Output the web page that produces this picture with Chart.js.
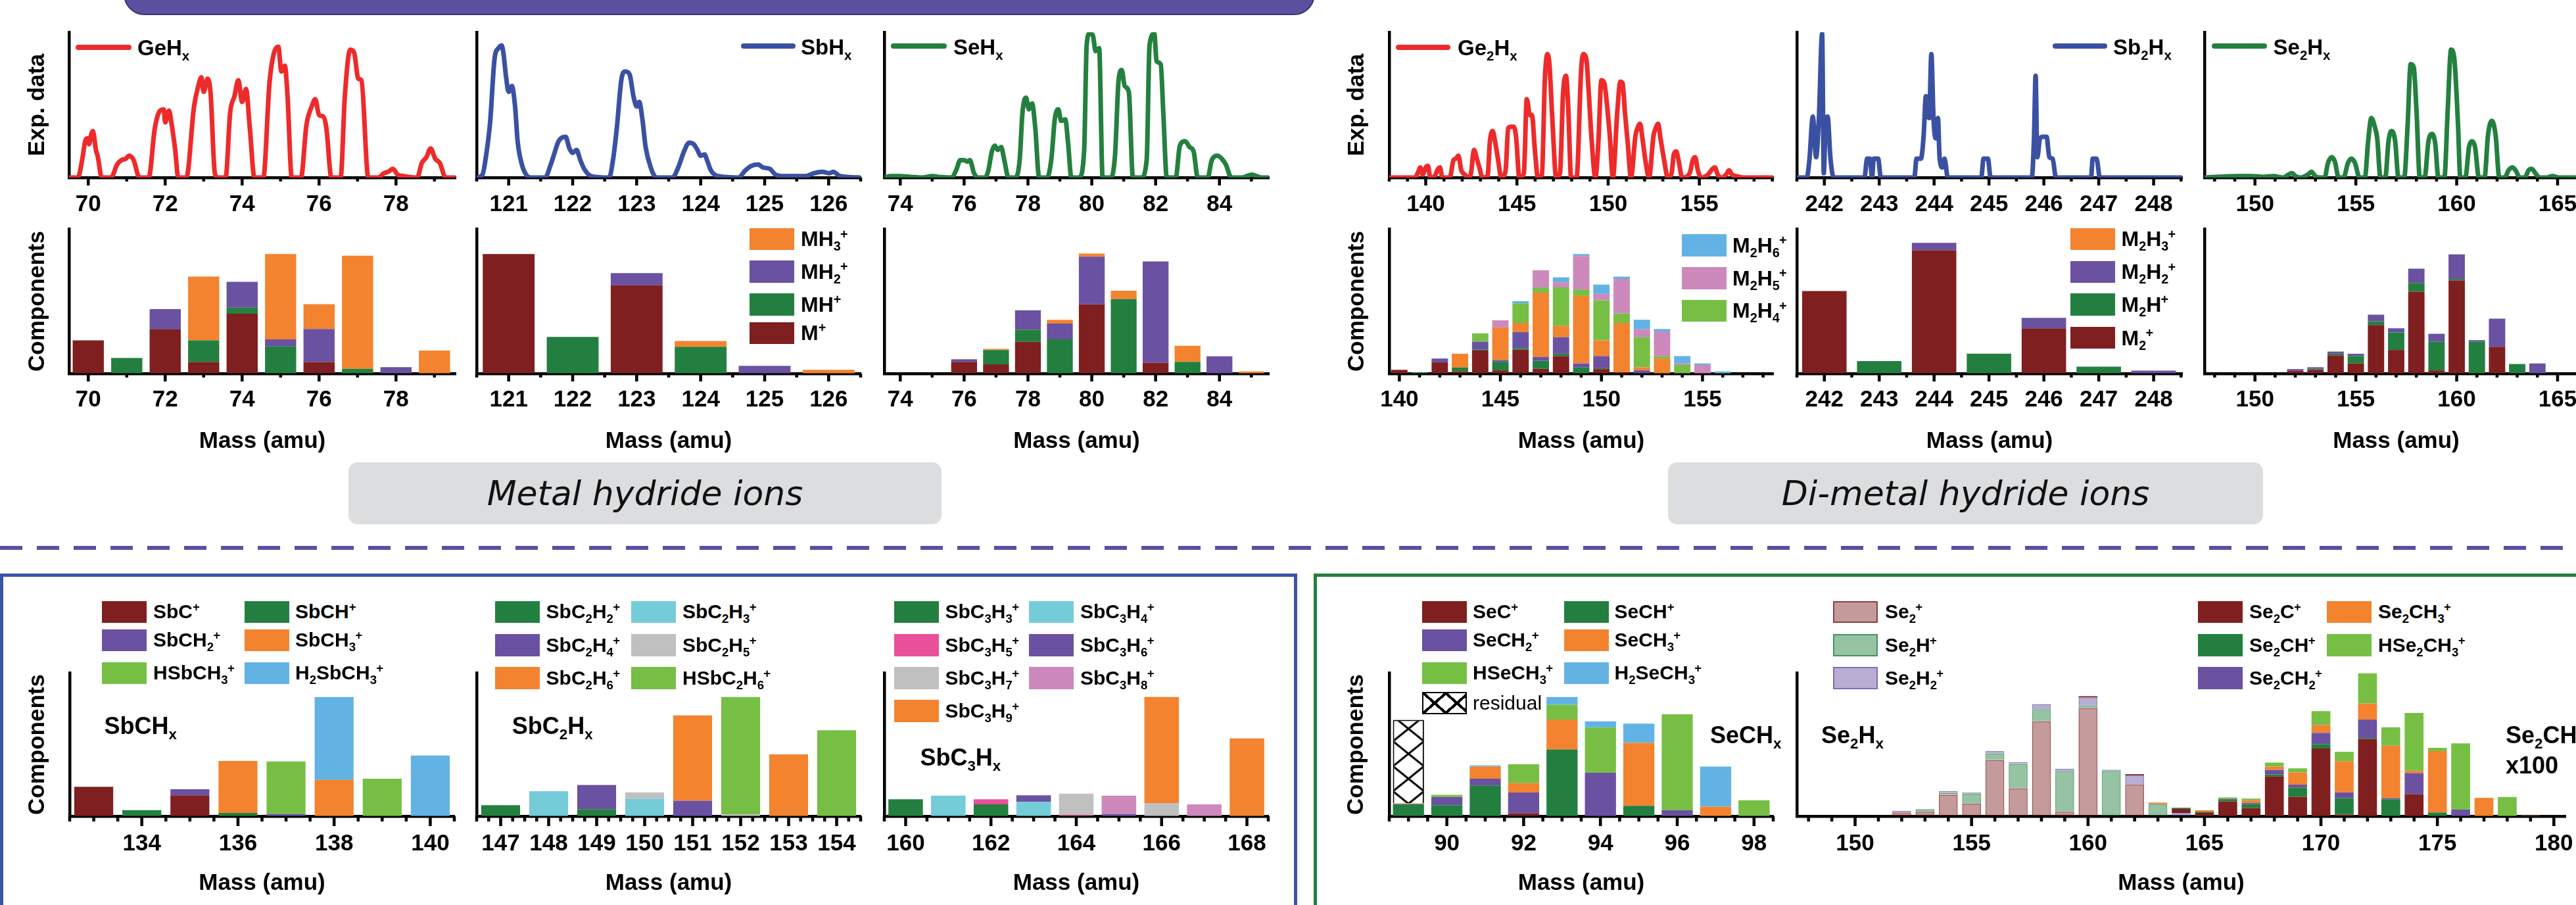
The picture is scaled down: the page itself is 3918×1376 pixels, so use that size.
<!DOCTYPE html>
<html><head><meta charset="utf-8"><title>Hydride ion components</title>
<script src="https://cdn.jsdelivr.net/npm/chart.js@4.4.1/dist/chart.umd.min.js"></script>
<style>
  html, body { margin: 0; padding: 0; background: #fff; }
  body { position: relative; width: 3918px; height: 1376px; overflow: hidden; font-family: 'Liberation Sans', Arial, sans-serif; }
  canvas { position: absolute; }
  .box { position: absolute; box-sizing: border-box; }
  .t { position: absolute; height: 1em; line-height: 1em; margin-top: -0.5em; font-weight: bold; white-space: nowrap; color: #000; }
  .t sub, .t sup { font-size: 0.62em; line-height: 0; }
  .t sub + sup { margin-left: -0.04em; }
  .tag { position: absolute; background: #dcdddf; border-radius: 14px; display: flex; align-items: center; justify-content: center;
         font: italic 200 52px 'DejaVu Sans', sans-serif; color: #111; }
</style></head><body>
<div class="box" style="left:188px;top:-40px;width:1812px;height:63px;background:#5b4f9f;border:2px solid #3b3477;border-radius:0 0 32px 32px"></div>
<div class="tag" style="left:530px;top:703px;width:902px;height:94px">Metal hydride ions</div>
<div class="tag" style="left:2537px;top:703px;width:905px;height:94px">Di-metal hydride ions</div>
<div class="box" style="left:0;top:830px;width:3918px;height:6px;background:repeating-linear-gradient(90deg,#5b4f9f 0 34px,transparent 34px 56px)"></div>
<div class="box" style="left:0;top:872px;width:1973px;height:560px;border:5px solid #3b54a5"></div>
<div class="box" style="left:1998px;top:872px;width:1930px;height:560px;border:5px solid #24803f"></div>
<script>
// ---------- experimental spectra (mass, % of axis height) ----------
const geExp = [[69.5,0],[69.73,0],[69.84,12],[69.92,25],[69.98,27],[70.02,23],[70.08,30],[70.12,32],[70.2,19],[70.25,14],[70.35,0],
  [70.59,0],[70.75,9],[70.86,12],[70.98,13],[71.06,15],[71.18,12],[71.33,0],[71.57,0],[71.73,34],[71.84,45],[71.96,47],[72.0,38],
  [72.1,46],[72.16,38],[72.26,19],[72.34,0],[72.55,0],[72.75,49],[72.86,63],[72.94,69],[73.0,59],[73.1,68],[73.18,58],[73.29,3],
  [73.37,0],[73.57,0],[73.69,45],[73.8,56],[73.9,67],[74.0,52],[74.1,61],[74.2,34],[74.32,0],[74.55,0],[74.71,65],[74.82,85],
  [74.94,90],[75.02,73],[75.11,77],[75.18,56],[75.29,0],[75.53,0],[75.67,36],[75.81,49],[75.9,54],[76.0,43],[76.11,42],[76.19,34],
  [76.32,0],[76.56,0],[76.67,56],[76.81,88],[76.91,86],[77.02,68],[77.1,67],[77.28,0],[77.53,0],[77.69,3],[77.8,4],[77.92,6],
  [78.04,2],[78.2,1],[78.55,0],[78.67,10],[78.79,14],[78.9,20],[79.02,13],[79.14,10],[79.29,0],[79.55,0]];
const sbExp = [[120.5,0],[120.59,2],[120.65,16],[120.71,38],[120.78,82],[120.84,89],[120.89,91],[120.92,85],[120.96,69],[121.0,59],
  [121.05,63],[121.1,49],[121.14,25],[121.2,10],[121.29,1],[121.35,0],[121.57,0],[121.65,8],[121.71,16],[121.78,25],[121.89,28],
  [121.95,20],[122.0,17],[122.06,19],[122.12,12],[122.18,6],[122.29,1],[122.57,0],[122.63,12],[122.69,34],[122.76,67],[122.82,73],
  [122.89,71],[122.95,56],[123.0,49],[123.04,52],[123.09,40],[123.14,21],[123.22,7],[123.31,0],[123.56,0],[123.65,7],[123.74,18],
  [123.82,24],[123.89,23],[123.95,19],[124.0,15],[124.06,16],[124.1,12],[124.16,5],[124.27,1],[124.59,0],[124.7,5],[124.79,8],
  [124.9,9],[124.97,7],[125.08,6],[125.17,2],[125.3,1],[125.64,1],[125.77,3],[125.9,4],[126.01,3],[126.07,4],[126.18,1],[126.5,0]];
const seExp = [[73.5,0],[73.71,1],[73.97,1],[74.32,0.5],[74.67,0],[75.01,1],[75.27,0.3],[75.61,0],[75.75,5],[75.88,12],[76.0,12],
  [76.1,11],[76.18,12],[76.31,3],[76.44,0],[76.66,0],[76.76,5],[76.87,18],[76.96,22],[77.05,19],[77.16,21],[77.26,12],[77.39,0],
  [77.61,0],[77.74,12],[77.83,45],[77.94,55],[78.03,47],[78.13,51],[78.23,34],[78.35,0],[78.6,0],[78.74,14],[78.84,40],[78.95,47],
  [79.04,39],[79.17,40],[79.26,23],[79.36,0],[79.6,0],[79.76,18],[79.84,91],[79.93,99],[80.03,98],[80.12,87],[80.23,89],[80.34,0],
  [80.6,0],[80.73,16],[80.84,67],[80.94,74],[81.03,63],[81.16,59],[81.29,0],[81.55,0],[81.72,12],[81.81,91],[81.96,99],[82.03,80],
  [82.16,78],[82.24,45],[82.35,0],[82.63,0],[82.76,22],[82.93,25],[83.06,21],[83.19,18],[83.32,0],[83.63,0],[83.76,12],[83.94,15],
  [84.07,13],[84.2,9],[84.37,0],[84.71,0],[85.01,2],[85.31,0],[85.55,0]];
const ge2Exp = [[138,0],[139.42,0],[139.59,4],[139.7,7],[139.83,2],[140.0,7],[140.12,8],[140.25,0],[140.5,1],[140.63,5],[140.78,7],
  [140.91,0],[141.32,0],[141.52,12],[141.65,13],[141.79,15],[141.95,5],[142.15,2],[142.32,0],[142.48,3],[142.65,19],[142.78,14],
  [142.94,7],[143.11,0],[143.39,1],[143.52,25],[143.67,32],[143.8,25],[143.97,12],[144.14,0],[144.38,5],[144.52,34],[144.67,35],
  [144.83,35],[144.96,27],[145.13,0],[145.38,3],[145.54,54],[145.71,43],[145.82,43],[145.99,18],[146.15,0],[146.37,2],[146.53,67],
  [146.67,85],[146.78,78],[146.95,38],[147.15,0],[147.36,3],[147.53,58],[147.69,70],[147.81,49],[147.97,0],[148.27,0],[148.52,74],
  [148.64,85],[148.8,82],[148.93,60],[149.1,25],[149.3,0],[149.46,23],[149.63,67],[149.79,65],[149.93,51],[150.09,29],[150.26,0],
  [150.5,45],[150.67,66],[150.79,65],[150.92,45],[151.08,23],[151.25,0],[151.5,29],[151.61,34],[151.75,37],[151.88,27],[152.04,12],
  [152.24,0],[152.49,29],[152.61,34],[152.74,37],[152.87,27],[153.07,12],[153.27,0],[153.48,3],[153.6,16],[153.73,18],[153.86,12],
  [154.06,0],[154.47,3],[154.64,12],[154.77,14],[154.92,5],[155.09,0],[155.47,2],[155.72,6],[155.85,7],[156.01,2],[156.21,0],
  [156.46,2],[156.63,5],[156.79,2],[157.04,1],[157.45,0],[159.05,0]];
const sb2Exp = [[241.51,0],[241.68,0],[241.73,13],[241.79,42],[241.85,14],[241.9,40],[241.96,99],[241.99,3],[242.02,34],[242.06,42],
  [242.11,14],[242.17,0],[242.73,0],[242.78,13],[242.83,13],[242.87,0],[242.9,13],[242.98,13],[243.03,0],[243.64,0],[243.68,13],
  [243.76,13],[243.81,29],[243.85,56],[243.88,43],[243.91,41],[243.95,85],[243.99,40],[244.03,27],[244.07,41],[244.1,14],[244.15,7],
  [244.19,13],[244.25,0],[244.86,0],[244.9,13],[244.98,13],[245.03,0],[245.78,0],[245.82,27],[245.85,70],[245.88,14],[245.93,27],
  [245.98,28],[246.05,28],[246.1,14],[246.16,13],[246.22,0],[246.86,0],[246.89,13],[246.96,13],[247.02,0],[248.52,0]];
const se2Exp = [[147.52,0],[149.21,1],[149.82,1],[150.43,0.5],[150.91,1],[151.4,0],[151.65,2],[151.83,3],[152.01,1],[152.26,0],
  [152.62,2],[152.8,4],[152.99,1],[153.23,0],[153.45,0],[153.62,10],[153.8,14],[153.96,11],[154.15,0],[154.39,0],[154.61,10],
  [154.78,13],[154.96,10],[155.18,0],[155.45,0],[155.61,25],[155.77,41],[155.94,35],[156.06,27],[156.22,0],[156.46,0],[156.62,25],
  [156.77,32],[156.95,25],[157.11,0],[157.4,0],[157.56,34],[157.72,78],[157.87,76],[158.01,45],[158.17,0],[158.41,0],[158.6,25],
  [158.78,30],[158.94,23],[159.09,0],[159.39,0],[159.55,45],[159.72,88],[159.88,82],[160.06,38],[160.18,0],[160.43,0],[160.61,21],
  [160.76,25],[160.91,21],[161.1,0],[161.38,0],[161.55,29],[161.74,39],[161.93,29],[162.11,0],[162.38,0],[162.57,5],[162.77,7],
  [162.96,4],[163.11,0],[163.38,0],[163.56,5],[163.72,6],[163.9,3],[164.09,0],[164.45,0],[164.76,1],[165.06,0],[166.5,0]];

// ---------- fitted components: metal hydride ions ----------
const mhNames = ['M^+', 'MH^+', 'MH_2^+', 'MH_3^+'];
const geMass = [70, 71, 72, 73, 74, 75, 76, 77, 78, 79];
const geM   = [23, 0, 30.8, 8.1, 41.4, 0, 7.9, 0, 0, 0];
const geMH  = [0, 10.8, 0, 14.8, 4.2, 18.7, 0, 3.3, 0, 0];
const geMH2 = [0, 0, 13.7, 0, 17.8, 4.9, 22.9, 0, 4.4, 0];
const geMH3 = [0, 0, 0, 44.1, 0, 59, 17.2, 78.2, 0, 15.9];
const sbMass = [121, 122, 123, 124, 125, 126];
const sbM   = [82.6, 0, 61, 0, 0, 0];
const sbMH  = [0, 25.3, 0, 18.5, 0, 0];
const sbMH2 = [0, 0, 8.4, 0, 5.3, 0];
const sbMH3 = [0, 0, 0, 4, 0, 2.6];
const seMass = [76, 77, 78, 79, 80, 81, 82, 83, 84, 85];
const seM   = [8.1, 6.4, 22, 0, 47.8, 0, 7.5, 0, 0, 0];
const seMH  = [0, 9.9, 8.2, 23.6, 0, 51.5, 0, 8.1, 0, 0];
const seMH2 = [1.8, 0, 13.6, 11, 33, 0, 70, 0, 11.9, 0];
const seMH3 = [0, 0.7, 0, 2.6, 2.2, 5.8, 0, 11.1, 0, 1.5];

// ---------- fitted components: di-metal hydride ions ----------
const m2Names = ['M_2^+', 'M_2H^+', 'M_2H_2^+', 'M_2H_3^+', 'M_2H_4^+', 'M_2H_5^+', 'M_2H_6^+'];
const ge2Mass = [140, 141, 142, 143, 144, 145, 146, 147, 148, 149, 150, 151, 152, 153, 154, 155, 156];
const ge2M   = [2.6, 0, 7.7, 1.5, 15.9, 2.2, 16.5, 3.3, 12.1, 0, 3.1, 0.9, 0, 0, 0, 0, 0];
const ge2MH  = [0, 0.9, 0, 2.7, 0.6, 5.9, 1.1, 5.5, 1.6, 4.2, 0.6, 0, 0, 0, 0, 0, 0];
const ge2MH2 = [0, 0, 2.7, 0, 5.5, 1.2, 11, 2.7, 11.4, 2.8, 8.4, 0, 2.2, 0, 0, 0, 0];
const ge2MH3 = [0, 0, 0, 9.5, 0, 22.6, 6.4, 44.4, 7.9, 46.7, 10.8, 34.1, 2.2, 10.4, 0, 0, 0];
const ge2MH4 = [0, 0, 0, 0, 5.8, 0, 13.5, 3.6, 26.5, 4.4, 27.8, 6.6, 20.7, 1.5, 5.9, 0, 0];
const ge2MH5 = [0, 0, 0, 0, 0, 4.9, 0, 11.9, 3.5, 23.2, 4.4, 23.8, 5.5, 17.2, 1.1, 5.9, 0];
const ge2MH6 = [0, 0, 0, 0, 0, 0, 1.5, 0, 3.5, 1.3, 6.4, 1.6, 6.6, 1.7, 5.1, 1.1, 1.5];
const sb2Mass = [242, 243, 244, 245, 246, 247, 248];
const sb2M   = [57, 0, 85.2, 0, 31.3, 0, 0];
const sb2MH  = [0, 8.6, 0, 13.7, 0, 4.8, 0];
const sb2MH2 = [0, 0, 5.1, 0, 7.2, 0, 2];
const sb2MH3 = [0, 0, 0, 0, 0, 0, 0];
const se2Mass = [152, 153, 154, 155, 156, 157, 158, 159, 160, 161, 162, 163, 164];
const se2M   = [2, 2.6, 12.6, 7, 33.5, 16.3, 56.6, 2.2, 64.3, 0, 18.5, 0, 0];
const se2MH  = [0, 0.7, 1.1, 5.1, 2.6, 12.1, 6, 19.8, 1.1, 22, 0, 6.6, 0];
const se2MH2 = [1.1, 1.1, 1.5, 1.6, 4.6, 2.9, 9.9, 5.5, 17, 1.1, 19.4, 0, 7];

// ---------- Sb-C fragments ----------
const sbc1Names = ['SbC^+', 'SbCH^+', 'SbCH_2^+', 'SbCH_3^+', 'HSbCH_3^+', 'H_2SbCH_3^+'];
const sbc1Mass = [133, 134, 135, 136, 137, 138, 139, 140];
const sbc1Vals = [
  [20.5, 0, 14.6, 0, 0, 0, 0, 0],
  [0, 4.2, 0, 2.3, 0, 0, 0, 0],
  [0, 0, 4.2, 0, 1.5, 0, 0, 0],
  [0, 0, 0, 36.2, 0, 25.4, 0, 0],
  [0, 0, 0, 0, 36.7, 0, 26.2, 0],
  [0, 0, 0, 0, 0, 57.7, 0, 42.3]];
const sbc2Names = ['SbC_2H_2^+', 'SbC_2H_3^+', 'SbC_2H_4^+', 'SbC_2H_5^+', 'SbC_2H_6^+', 'HSbC_2H_6^+'];
const sbc2Mass = [147, 148, 149, 150, 151, 152, 153, 154];
const sbc2Vals = [
  [7.7, 0, 4.9, 0, 0, 0, 0, 0],
  [0, 17.4, 0, 12.3, 0, 0, 0, 0],
  [0, 0, 16.9, 0, 10.8, 0, 0, 0],
  [0, 0, 0, 4.3, 0, 1.2, 0, 0],
  [0, 0, 0, 0, 59.5, 0, 43.1, 0],
  [0, 0, 0, 0, 0, 81.9, 0, 60]];
const sbc3Names = ['SbC_3H_3^+', 'SbC_3H_4^+', 'SbC_3H_5^+', 'SbC_3H_6^+', 'SbC_3H_7^+', 'SbC_3H_8^+', 'SbC_3H_9^+'];
const sbc3Mass = [160, 161, 162, 163, 164, 165, 166, 167, 168];
const sbc3Vals = [
  [11.8, 0, 8.2, 0, 0, 0, 0, 0, 0],
  [0, 14.3, 0, 10, 0, 0, 0, 0, 0],
  [0, 0, 3.6, 0, 0.8, 0, 0, 0, 0],
  [0, 0, 0, 4.6, 0, 1.5, 0, 0, 0],
  [0, 0, 0, 0, 14.9, 0, 9.2, 0, 0],
  [0, 0, 0, 0, 0, 12.8, 0, 8.2, 0],
  [0, 0, 0, 0, 0, 0, 73.9, 0, 54.2]];

// ---------- Se-C fragments ----------
const sec1Names = ['SeC^+', 'SeCH^+', 'SeCH_2^+', 'SeCH_3^+', 'HSeCH_3^+', 'H_2SeCH_3^+', 'residual'];
const sec1Mass = [89, 90, 91, 92, 93, 94, 95, 96, 97, 98];
const sec1Vals = [
  [0, 0, 0, 2, 0, 0, 0, 0, 0, 0],
  [8.2, 7.7, 21.5, 0, 46.6, 0, 7.2, 0, 0, 0],
  [0.3, 5.7, 4.7, 14.5, 0, 30.3, 0, 4.3, 0, 0],
  [0.5, 0, 8.4, 6.6, 20.8, 0, 44, 0, 6.6, 0],
  [0, 1.5, 0, 13.1, 10.3, 31.5, 0, 66.8, 0, 11.1],
  [0, 0, 0.8, 0, 5.4, 4.4, 13.4, 0, 28, 0],
  [58.2, 0, 0, 0, 0, 0, 0, 0, 0, 0]];
const se2cNames = ['Se_2^+', 'Se_2H^+', 'Se_2H_2^+', 'Se_2C^+', 'Se_2CH^+', 'Se_2CH_2^+', 'Se_2CH_3^+', 'HSe_2CH_3^+'];
const se2cMass = [150, 151, 152, 153, 154, 155, 156, 157, 158, 159, 160, 161, 162, 163, 164, 165,
  166, 167, 168, 169, 170, 171, 172, 173, 174, 175, 176, 177, 178, 179, 180];
const se2cVals = [
  [0.3, 0, 2.6, 3.1, 14.9, 8.8, 39.2, 19.5, 66.2, 3.1, 75.4, 0, 22.3, 0, 0, 0, 0, 0, 0, 0, 0, 0, 0, 0, 0, 0, 0, 0, 0, 0, 0],
  [0, 0.5, 0, 1.8, 1.3, 7, 4.6, 17, 8.4, 28.4, 1.8, 32, 0, 8.5, 0, 0, 0, 0, 0, 0, 0, 0, 0, 0, 0, 0, 0, 0, 0, 0, 0],
  [0, 0, 1.2, 0, 1.2, 0.8, 1.6, 1.2, 3.6, 1.6, 5.7, 0.4, 6.2, 0, 2.3, 0, 0, 0, 0, 0, 0, 0, 0, 0, 0, 0, 0, 0, 0, 0, 0],
  [0, 0, 0, 0, 0, 0, 0, 0, 0, 0, 0.8, 0, 0.8, 0, 2.8, 2.3, 10.3, 5.7, 27.7, 13.5, 47.2, 1.1, 53.8, 0, 15.4, 0, 0, 0, 0, 0, 0],
  [0, 0, 0, 0, 0, 0, 0, 0, 0, 0, 0, 0, 0, 0, 0.8, 0.8, 1.2, 2.8, 1.5, 6.5, 3.1, 11.5, 0.8, 11.8, 0, 2.6, 0, 0, 0, 0, 0],
  [0, 0, 0, 0, 0, 0, 0, 0, 0, 0, 0, 0, 0, 0, 0, 0, 0.5, 0.8, 3.1, 2, 7.8, 4, 12.8, 0.8, 14.6, 0, 4.6, 0, 0, 0, 0],
  [0, 0, 0, 0, 0, 0, 0, 0, 0, 0, 0, 0, 0, 1.0, 0, 1.1, 0, 1.8, 2.3, 8.5, 5.4, 21.8, 11.1, 36.6, 1.8, 42.8, 0, 12.8, 0, 0.5, 0],
  [0, 0, 0, 0, 0, 0, 0, 0, 0, 0, 0, 0, 0, 0, 0, 0, 1.1, 1.2, 2.8, 2.9, 9.8, 6.5, 21.1, 12.8, 40.2, 2.3, 46.2, 0, 13.4, 0, 0.3]];

// ---------- colours ----------
const RED = '#ee2a2a', BLUE = '#3a51a3', GRN = '#23803e';
const DR = '#7f1f20', GR = '#237f3f', PU = '#6a51a1', OR = '#f3832f', LG = '#76bf44', LB = '#62b3e3',
      PK = '#cd88bc', CY = '#74ccd8', GY = '#c0c0c0', HP = '#ea4f9c';
const mhColors = [DR, GR, PU, OR];
const m2Colors = [DR, GR, PU, OR, LG, PK, LB];

// residual hatch
const tile = document.createElement('canvas');
tile.width = 47; tile.height = 38;
(function () {
  const g = tile.getContext('2d');
  g.fillStyle = '#fff'; g.fillRect(0, 0, 47, 38);
  g.strokeStyle = '#000'; g.lineWidth = 3;
  g.beginPath(); g.moveTo(0, 0); g.lineTo(47, 38); g.moveTo(47, 0); g.lineTo(0, 38); g.stroke();
})();
const hatch = tile.getContext('2d').createPattern(tile, 'repeat');
const HATCH_CSS = 'linear-gradient(to top right,transparent calc(50% - 2px),#000 calc(50% - 2px),#000 calc(50% + 2px),transparent calc(50% + 2px)) 0 0/34px 100%,' +
  'linear-gradient(to bottom right,transparent calc(50% - 2px),#000 calc(50% - 2px),#000 calc(50% + 2px),transparent calc(50% + 2px)) 0 0/34px 100%,#fff';

const sbc1Colors = [DR, GR, PU, OR, LG, LB];
const sbc2Colors = [GR, CY, PU, GY, OR, LG];
const sbc3Colors = [GR, CY, HP, PU, GY, PK, OR];
const sec1Colors = [DR, GR, PU, OR, LG, LB, hatch];
const se2cColors = ['rgba(127,31,32,0.45)', 'rgba(35,127,63,0.47)', 'rgba(106,81,161,0.47)', DR, GR, PU, OR, LG];
const se2cEdges = ['rgba(127,31,32,0.75)', 'rgba(35,127,63,0.7)', 'rgba(106,81,161,0.7)'];

// ---------- Chart.js setup ----------
Chart.defaults.font.family = "'Liberation Sans', Arial, Helvetica, sans-serif";
Chart.defaults.font.size = 35;
Chart.defaults.font.weight = 'bold';
Chart.defaults.color = '#000';

// short/long tick marks under the mass axis
Chart.register({
  id: 'amuTicks',
  afterDraw(chart, args, o) {
    const xs = chart.scales.x, ctx = chart.ctx, y0 = chart.chartArea.bottom;
    const majors = xs.ticks.map(t => t.value);
    const start = Math.ceil(xs.min / o.minor - 1e-6);
    ctx.save();
    ctx.strokeStyle = '#000'; ctx.lineWidth = o.width;
    for (let k = start; k * o.minor <= xs.max + 1e-6; k++) {
      const v = k * o.minor;
      const maj = majors.some(m => Math.abs(m - v) < 1e-6);
      const px = xs.getPixelForValue(v);
      ctx.beginPath(); ctx.moveTo(px, y0); ctx.lineTo(px, y0 + (maj ? o.major : o.len)); ctx.stroke();
    }
    ctx.restore();
  }
});

const ML = 110, MR = 14, MT = 14, MB = 140, LH = 42;
function plot(o) {
  const [x, y, w, h] = o.rect;
  const c = document.createElement('canvas');
  c.width = Math.round(w + ML + MR); c.height = Math.round(h + MT + MB);
  c.style.left = (x - ML) + 'px'; c.style.top = (y - MT) + 'px';
  document.body.appendChild(c);
  const border = {display: true, width: o.lw || 4.5, color: '#000'};
  const grid = {display: true, drawOnChartArea: false, drawTicks: false, offset: false};
  const stacked = o.type === 'bar';
  return new Chart(c, {
    type: o.type,
    data: {datasets: o.datasets},
    options: {
      responsive: false, animation: false, events: [],
      layout: {padding: {left: 0, right: MR, top: MT, bottom: 0}},
      plugins: {legend: {display: false}, tooltip: {enabled: false},
        amuTicks: {minor: o.minor, major: o.tl[0], len: o.tl[1], width: o.lw || 4.5}},
      scales: {
        x: {type: 'linear', min: o.xr[0], max: o.xr[1], offset: false, stacked, grid, border,
          ticks: {autoSkip: false, maxRotation: 0, padding: o.tickPad, callback: v => String(v)},
          afterBuildTicks: s => { s.ticks = o.majors.map(v => ({value: v})); },
          afterFit: s => { s.height = MB; s.paddingLeft = 0; s.paddingRight = 0; },
          title: {display: !!o.xTitleY, text: 'Mass (amu)',
            padding: {top: 0, bottom: o.xTitleY ? (y + h + MB - LH / 2 - o.xTitleY) : 0}}},
        y: {type: 'linear', min: 0, max: 100, stacked, grid, border, ticks: {display: false},
          afterFit: s => { s.width = ML; s.paddingTop = 0; s.paddingBottom = 0; },
          title: {display: !!o.yTitle, text: o.yTitle || '',
            padding: {top: o.yTitle ? (o.yTitleX - (x - ML) - LH / 2) : 0, bottom: 0}}}
      }
    }
  });
}
function line(pts, color) {
  return [{type: 'line', data: pts.map(p => ({x: p[0], y: p[1]})), borderColor: color, borderWidth: 7,
    pointRadius: 0, cubicInterpolationMode: 'monotone', borderJoinStyle: 'round', borderCapStyle: 'round'}];
}
function bars(masses, series, colors, edges) {
  return series.map((vals, i) => ({
    type: 'bar', backgroundColor: colors[i],
    borderColor: edges && edges[i] ? edges[i] : 'rgba(0,0,0,0)', borderWidth: edges && edges[i] ? 1.5 : 0,
    barPercentage: 0.81, categoryPercentage: 1,
    data: masses.map((m, j) => ({x: m, y: vals[j] ? vals[j] : null}))
  }));
}

// ---------- html text helpers ----------
function fm(s) { return s.replace(/_(\w)/g, '<sub>$1</sub>').replace(/\^\+/g, '<sup>+</sup>'); }
function txt(html, x, cy, size, weight) {
  const d = document.createElement('div');
  d.className = 't'; d.innerHTML = html;
  d.style.left = x + 'px'; d.style.top = cy + 'px'; d.style.fontSize = size + 'px';
  if (weight) d.style.fontWeight = weight;
  document.body.appendChild(d);
}
function swatch(x, y, w, h, bg, edge) {
  const d = document.createElement('div');
  d.className = 'box';
  Object.assign(d.style, {left: x + 'px', top: y + 'px', width: w + 'px', height: h + 'px', background: bg,
    border: edge ? '2px solid ' + edge : 'none'});
  document.body.appendChild(d);
}
function legend(idx, names, colors, boxX, rows, textX, size, edges) {
  idx.forEach((k, r) => {
    const bg = colors[k] === hatch ? HATCH_CSS : colors[k];
    swatch(boxX, rows[r], 68, 33.5, bg, colors[k] === hatch ? '#000' : (edges ? edges[k] : null));
    txt(fm(names[k]), textX, rows[r] + 16.7, size, names[k] === 'residual' ? 'normal' : null);
  });
}
function lineKey(x1, x2, y, color, tx, name) {
  const d = document.createElement('div');
  d.className = 'box';
  Object.assign(d.style, {left: x1 + 'px', top: (y - 4) + 'px', width: (x2 - x1) + 'px', height: '8px', background: color, borderRadius: '4px'});
  document.body.appendChild(d);
  txt(fm(name), tx, y + 1, 33);
}

// ---------- top: metal / di-metal hydrides ----------
const TOP = [48.5, 220.5], CMP = [348, 220];
const upperPanels = [
  {x: 104.7, w: 588, xr: [69.5, 79.55], cr: [69.5, 79.55], majors: [70, 72, 74, 76, 78], minor: 1, exp: geExp, color: RED,
   mass: geMass, vals: [geM, geMH, geMH2, geMH3], colors: mhColors, yt: 57.4},
  {x: 724.9, w: 584.4, xr: [120.5, 126.5], cr: [120.5, 126.5], majors: [121, 122, 123, 124, 125, 126], minor: 0.5, exp: sbExp, color: BLUE,
   mass: sbMass, vals: [sbM, sbMH, sbMH2, sbMH3], colors: mhColors},
  {x: 1344.7, w: 585.3, xr: [73.5, 85.55], cr: [73.5, 85.55], majors: [74, 76, 78, 80, 82, 84], minor: 1, exp: seExp, color: GRN,
   mass: seMass, vals: [seM, seMH, seMH2, seMH3], colors: mhColors},
  {x: 2112.6, w: 584.4, xr: [138, 159.05], cr: [139.5, 158.5], majors: [140, 145, 150, 155], minor: 1, exp: ge2Exp, color: RED,
   mass: ge2Mass, vals: [ge2M, ge2MH, ge2MH2, ge2MH3, ge2MH4, ge2MH5, ge2MH6], colors: m2Colors, yt: 2063.5},
  {x: 2732.7, w: 585.7, xr: [241.5, 248.52], cr: [241.5, 248.52], majors: [242, 243, 244, 245, 246, 247, 248], minor: 0.5, exp: sb2Exp, color: BLUE,
   mass: sb2Mass, vals: [sb2M, sb2MH, sb2MH2, sb2MH3], colors: m2Colors},
  {x: 3353.2, w: 583.1, xr: [147.5, 166.5], cr: [147.5, 166.5], majors: [150, 155, 160, 165], minor: 1, exp: se2Exp, color: GRN,
   mass: se2Mass, vals: [se2M, se2MH, se2MH2], colors: m2Colors}
];
upperPanels.forEach(p => {
  plot({rect: [p.x, TOP[0], p.w, TOP[1]], xr: p.xr, majors: p.majors, minor: p.minor, tl: [12, 6], tickPad: 20,
        type: 'line', datasets: line(p.exp, p.color), yTitle: p.yt ? 'Exp. data' : null, yTitleX: p.yt});
  plot({rect: [p.x, CMP[0], p.w, CMP[1]], xr: p.cr, majors: p.majors, minor: p.minor, tl: [12, 6], tickPad: 19,
        type: 'bar', datasets: bars(p.mass, p.vals, p.colors), yTitle: p.yt ? 'Components' : null, yTitleX: p.yt, xTitleY: 671});
});
lineKey(114.8, 199.7, 71.7, RED, 209, 'GeH_x');
lineKey(1127, 1210, 70, BLUE, 1218, 'SbH_x');
lineKey(1355, 1440, 70, GRN, 1450, 'SeH_x');
lineKey(2123, 2206, 71.7, RED, 2217, 'Ge_2H_x');
lineKey(3121.6, 3205, 70, BLUE, 3214, 'Sb_2H_x');
lineKey(3363.7, 3448, 70, GRN, 3457.5, 'Se_2H_x');
legend([3, 2, 1, 0], mhNames, mhColors, 1140, [346.6, 396, 446, 489.6], 1218, 32);
legend([6, 5, 4], m2Names, m2Colors, 2558, [356, 406, 455.6], 2635, 32);
legend([3, 2, 1, 0], m2Names, m2Colors, 3149, [346.6, 396.5, 446, 496.8], 3226.5, 32);

// ---------- bottom: carbon containing fragments ----------
const BOT = [1022.8, 218];
const bt = {tl: [15, 8], tickPad: 21, type: 'bar', xTitleY: 1343};
plot(Object.assign({rect: [105.6, BOT[0], 584.8, BOT[1]], xr: [132.5, 140.5], majors: [134, 136, 138, 140], minor: 0.5,
  datasets: bars(sbc1Mass, sbc1Vals, sbc1Colors), yTitle: 'Components', yTitleX: 57.4}, bt));
plot(Object.assign({rect: [724.9, BOT[0], 583.7, BOT[1]], xr: [146.5, 154.5], majors: [147, 148, 149, 150, 151, 152, 153, 154], minor: 0.25,
  datasets: bars(sbc2Mass, sbc2Vals, sbc2Colors)}, bt));
plot(Object.assign({rect: [1345.2, BOT[0], 584.1, BOT[1]], xr: [159.5, 168.5], majors: [160, 162, 164, 166, 168], minor: 0.5,
  datasets: bars(sbc3Mass, sbc3Vals, sbc3Colors)}, bt));
const secDs = bars(sec1Mass, sec1Vals, sec1Colors);
secDs[6].borderColor = '#000'; secDs[6].borderWidth = 2;
const secChart = plot(Object.assign({rect: [2113.3, BOT[0], 583.5, BOT[1]], xr: [88.5, 98.5], majors: [90, 92, 94, 96, 98], minor: 0.5,
  datasets: secDs, yTitle: 'Components', yTitleX: 2063.8}, bt));
hatch.setTransform(new DOMMatrix().translate(secChart.scales.x.getPixelForValue(sec1Mass[0]) - 23.5, secChart.chartArea.bottom));
secChart.draw();
plot(Object.assign({rect: [2732.6, BOT[0], 1168.5, BOT[1]], xr: [147.5, 180.5],
  majors: [150, 155, 160, 165, 170, 175, 180], minor: 1,
  datasets: bars(se2cMass, se2cVals, se2cColors, se2cEdges)}, bt));

legend([0, 2, 4], sbc1Names, sbc1Colors, 155, [913.7, 956.7, 1006.7], 233, 30);
legend([1, 3, 5], sbc1Names, sbc1Colors, 372, [913.7, 956.7, 1006.7], 449, 30);
legend([0, 2, 4], sbc2Names, sbc2Colors, 753, [913.7, 964, 1014.4], 830.6, 30);
legend([1, 3, 5], sbc2Names, sbc2Colors, 959.5, [913.7, 964, 1014.4], 1038, 30);
legend([0, 2, 4, 6], sbc3Names, sbc3Colors, 1359.5, [913.7, 964, 1014.4, 1064], 1437.5, 30);
legend([1, 3, 5], sbc3Names, sbc3Colors, 1565, [913.7, 964, 1014.4], 1643, 30);
legend([0, 2, 4, 6], sec1Names, sec1Colors, 2163, [913.7, 956.7, 1006.7, 1052.3], 2240, 30);
legend([1, 3, 5], sec1Names, sec1Colors, 2378.6, [913.7, 956.7, 1006.7], 2455.6, 30);
legend([0, 1, 2], se2cNames, se2cColors, 2787.8, [913.7, 964, 1014.4], 2867, 30, se2cEdges);
legend([3, 4, 5], se2cNames, se2cColors, 3343.4, [913.7, 964, 1014.4], 3421, 30);
legend([6, 7], se2cNames, se2cColors, 3539, [913.7, 964], 3617, 30);

txt(fm('SbCH_x'), 158.4, 1104, 36);
txt(fm('SbC_2H_x'), 778.8, 1104, 36);
txt(fm('SbC_3H_x'), 1399.4, 1152, 36);
txt(fm('SeCH_x'), 2601, 1118, 36);
txt(fm('Se_2H_x'), 2770, 1118, 36);
txt(fm('Se_2CH_x'), 3811, 1118, 36);
txt('x100', 3811, 1164, 36);
</script>
</body></html>
